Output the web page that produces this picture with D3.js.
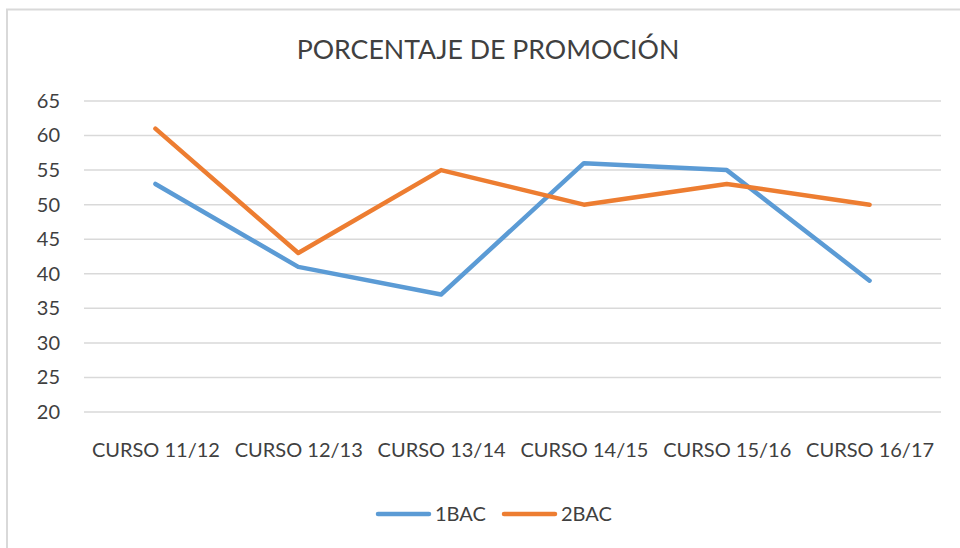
<!DOCTYPE html>
<html>
<head>
<meta charset="utf-8">
<script src="https://cdn.jsdelivr.net/npm/d3@7"></script>
<style>
  body { margin: 0; background: #fff; }
  svg { display: block; }
</style>
</head>
<body>
<script>
const categories = ["CURSO 11/12", "CURSO 12/13", "CURSO 13/14", "CURSO 14/15", "CURSO 15/16", "CURSO 16/17"];
const bac1 = [53, 41, 37, 56, 55, 39];
const bac2 = [61, 43, 55, 50, 53, 50];
const seriesNames = ["1BAC", "2BAC"];
const seriesColors = ["#5B9BD5", "#ED7D31"];
const yTicks = [20, 25, 30, 35, 40, 45, 50, 55, 60, 65];

const width = 960;
const height = 548;
const plot = { left: 84, right: 941, top: 101, bottom: 412 };
const font = "Lato, 'Open Sans', sans-serif";

const svg = d3.select("body")
    .append("svg")
    .attr("width", width)
    .attr("height", height);

svg.append("rect")
    .attr("width", width)
    .attr("height", height)
    .attr("fill", "#fff");

// chart border (runs off the right and bottom edges)
svg.append("rect")
    .attr("x", 7)
    .attr("y", 9.5)
    .attr("width", width + 20)
    .attr("height", height + 20)
    .attr("fill", "none")
    .attr("stroke", "#d9d9d9")
    .attr("stroke-width", 2);

svg.append("text")
    .attr("x", 488)
    .attr("y", 59)
    .attr("text-anchor", "middle")
    .attr("font-family", font)
    .attr("font-size", "26.7px")
    .attr("fill", "#404040")
    .text("PORCENTAJE DE PROMOCIÓN");

const x = d3.scalePoint()
    .domain(categories)
    .range([plot.left, plot.right])
    .padding(0.5);

const y = d3.scaleLinear()
    .domain([20, 65])
    .range([plot.bottom, plot.top]);

// gridlines
svg.append("g")
    .selectAll("line")
    .data(yTicks)
    .enter()
    .append("line")
    .attr("x1", plot.left)
    .attr("x2", plot.right)
    .attr("y1", d => y(d))
    .attr("y2", d => y(d))
    .attr("stroke", "#d9d9d9")
    .attr("stroke-width", 1.5);

// y axis labels
const yAxis = svg.append("g")
    .attr("transform", `translate(${plot.left},0)`)
    .call(d3.axisLeft(y).tickValues(yTicks).tickSize(0).tickPadding(24));
yAxis.select(".domain").remove();
yAxis.selectAll("text")
    .attr("font-family", font)
    .attr("font-size", "20px")
    .attr("fill", "#404040");

// x axis labels
const xAxis = svg.append("g")
    .attr("transform", `translate(0,${plot.bottom})`)
    .call(d3.axisBottom(x).tickSize(0).tickPadding(31));
xAxis.select(".domain").remove();
xAxis.selectAll("text")
    .attr("font-family", font)
    .attr("font-size", "20px")
    .attr("fill", "#404040");

const line = d3.line()
    .x((d, i) => x(categories[i]))
    .y(d => y(d));

[bac1, bac2].forEach((values, i) => {
    svg.append("path")
        .datum(values)
        .attr("d", line)
        .attr("fill", "none")
        .attr("stroke", seriesColors[i])
        .attr("stroke-width", 4.5)
        .attr("stroke-linecap", "round")
        .attr("stroke-linejoin", "round");
});

// legend
const legend = svg.append("g")
    .selectAll("g")
    .data(seriesNames)
    .enter()
    .append("g")
    .attr("transform", (d, i) => `translate(${378 + i * 126},514)`);

legend.append("line")
    .attr("x1", 0)
    .attr("x2", 51)
    .attr("stroke", (d, i) => seriesColors[i])
    .attr("stroke-width", 4.5)
    .attr("stroke-linecap", "round");

legend.append("text")
    .attr("x", 57)
    .attr("dy", "0.36em")
    .attr("font-family", font)
    .attr("font-size", "20px")
    .attr("fill", "#404040")
    .text(d => d);
</script>
</body>
</html>
